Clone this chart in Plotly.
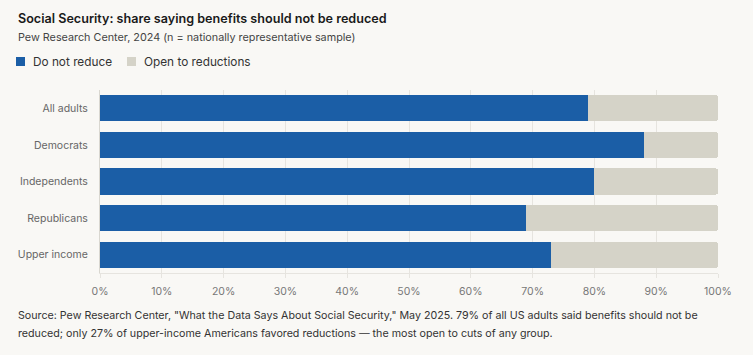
import plotly.graph_objects as go

categories = ["All adults", "Democrats", "Independents", "Republicans", "Upper income"]
do_not_reduce = [79, 88, 80, 69, 73]
open_to_reductions = [21, 12, 20, 31, 27]
tick_vals = [0, 10, 20, 30, 40, 50, 60, 70, 80, 90, 100]
tick_text = [f"{v}%" for v in tick_vals]
series_names = ["Do not reduce", "Open to reductions"]
series_colors = ["#1B5EA6", "#D5D3C8"]
footnote_lines = [
    "Source: Pew Research Center, \"What the Data Says About Social Security,\" May 2025. 79% of all US adults said benefits should not be",
    "reduced; only 27% of upper-income Americans favored reductions — the most open to cuts of any group.",
]

W, H = 753, 355
L, R, T, B = 100, 35, 90, 82
pw = W - L - R
ph = H - T - B
BG = "#F9F8F5"


def px_x(x):
    return (x - L) / pw


def px_y(y):
    return (H - B - y) / ph


fig = go.Figure()
for name, vals, col in zip(series_names, [do_not_reduce, open_to_reductions], series_colors):
    fig.add_trace(go.Bar(
        y=categories, x=vals, orientation="h", name=name,
        marker=dict(color=col, line=dict(width=0)),
        hovertemplate="%{y}: %{x}%<extra></extra>",
        showlegend=False,
    ))

font_family = "Inter, 'Open Sans', sans-serif"

annotations = [
    dict(
        text="Social Security: share saying benefits should not be reduced",
        xref="paper", yref="paper", x=px_x(16), y=px_y(18),
        xanchor="left", yanchor="middle", showarrow=False,
        font=dict(size=12.6, color="#1a1a1a", weight=600),
    ),
    dict(
        text="Pew Research Center, 2024 (n = nationally representative sample)",
        xref="paper", yref="paper", x=px_x(16), y=px_y(38),
        xanchor="left", yanchor="middle", showarrow=False,
        font=dict(size=10.8, color="#444"),
    ),
]
for line, ly in zip(footnote_lines, [315, 333]):
    annotations.append(dict(
        text=line, xref="paper", yref="paper", x=px_x(16), y=px_y(ly),
        xanchor="left", yanchor="middle", align="left", showarrow=False,
        font=dict(size=10.7, color="#333"),
    ))

shapes = []
legend_pos = [16, 127]
for name, col, lx in zip(series_names, series_colors, legend_pos):
    shapes.append(dict(
        type="rect", xref="paper", yref="paper",
        x0=px_x(lx), x1=px_x(lx + 9), y0=px_y(57), y1=px_y(66),
        fillcolor=col, line=dict(width=0), layer="above",
    ))
    annotations.append(dict(
        text=name, xref="paper", yref="paper", x=px_x(lx + 15), y=px_y(62),
        xanchor="left", yanchor="middle", showarrow=False,
        font=dict(size=11.8, color="#333"),
    ))

fig.update_layout(
    width=W, height=H,
    barmode="stack", bargap=0.28, barcornerradius=3,
    paper_bgcolor=BG, plot_bgcolor=BG,
    margin=dict(l=L, r=R, t=T, b=B, autoexpand=False),
    font=dict(family=font_family, color="#333"),
    showlegend=False,
    xaxis=dict(
        range=[0, 100], tickvals=tick_vals, ticktext=tick_text,
        showgrid=True, gridcolor="#E6E4DF", gridwidth=1,
        zeroline=False, showline=True, linecolor="#E6E4DF", linewidth=1,
        ticks="outside", ticklen=4, tickcolor="#E6E4DF", ticklabelstandoff=4,
        automargin=False,
        tickfont=dict(size=10.5, color="#777"), fixedrange=True,
    ),
    yaxis=dict(
        categoryorder="array", categoryarray=categories[::-1],
        showgrid=False, ticks="outside", ticklen=9, tickcolor="rgba(0,0,0,0)",
        showline=True, linecolor="#D9D7D0", linewidth=1, automargin=False,
        tickfont=dict(size=10.5, color="#666"), fixedrange=True,
    ),
    annotations=annotations,
    shapes=shapes,
)

fig.write_html(
    "out.html",
    config={"displayModeBar": False},
    post_script="document.body.style.margin='0';document.body.style.background='%s';" % BG,
)
